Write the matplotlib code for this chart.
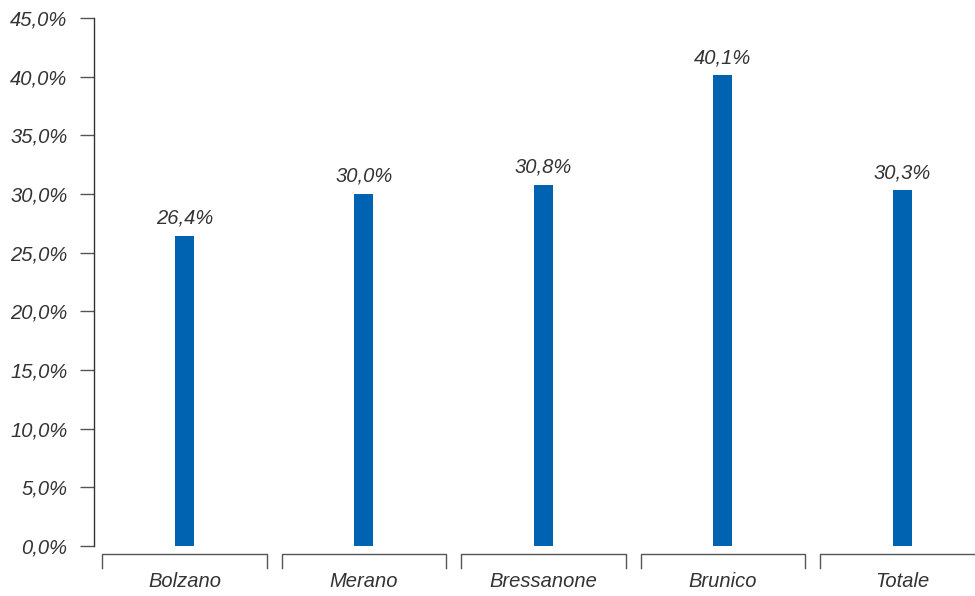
import matplotlib
matplotlib.use("Agg")
import matplotlib.pyplot as plt
from matplotlib.ticker import FuncFormatter

# dati
citta = ["Bolzano", "Merano", "Bressanone", "Brunico", "Totale"]
valori = [26.4, 30.0, 30.8, 40.1, 30.3]
tick_y = [0, 5, 10, 15, 20, 25, 30, 35, 40, 45]

font = ["Liberation Sans", "DejaVu Sans"]
plt.rcParams["font.family"] = font
plt.rcParams["font.style"] = "italic"
grigio = "#333333"
blu = "#0063B1"

fig = plt.figure(figsize=(9.75, 5.96), dpi=100)
ax = fig.add_axes([94 / 975, 50 / 596, 881 / 975, 528 / 596])

x = list(range(len(citta)))
ax.bar(x, valori, width=0.106, color=blu, zorder=3)

for xi, v in zip(x, valori):
    ax.annotate(f"{v:.1f}%".replace(".", ","), (xi, v), xytext=(0, 6),
                textcoords="offset points", ha="center", va="bottom",
                fontsize=14.5, color=grigio, style="italic")

ax.set_xlim(-0.504, 4.404)
ax.set_ylim(0, 45)
ax.set_yticks(tick_y)
ax.yaxis.set_major_formatter(FuncFormatter(lambda v, p: f"{v:.1f}%".replace(".", ",")))
ax.tick_params(axis="y", length=10, width=1, color="#555555", pad=9,
               labelsize=14.5, labelcolor=grigio)
for lab in ax.get_yticklabels():
    lab.set_style("italic")
ax.set_xticks([])

for s in ["top", "right", "bottom"]:
    ax.spines[s].set_visible(False)
ax.spines["left"].set_color("#333333")
ax.spines["left"].set_linewidth(1)

# parentesi sotto le categorie
tr = ax.get_xaxis_transform()
for xi, nome in zip(x, citta):
    ax.plot([xi - 0.458, xi - 0.458, xi + 0.458, xi + 0.458],
            [-0.0417, -0.0152, -0.0152, -0.0417],
            transform=tr, clip_on=False, color="#555555", lw=1)
    ax.text(xi, -0.0663, nome, transform=tr, ha="center", va="center",
            fontsize=14.5, color=grigio, style="italic")

fig.savefig("out.png", dpi=100)
